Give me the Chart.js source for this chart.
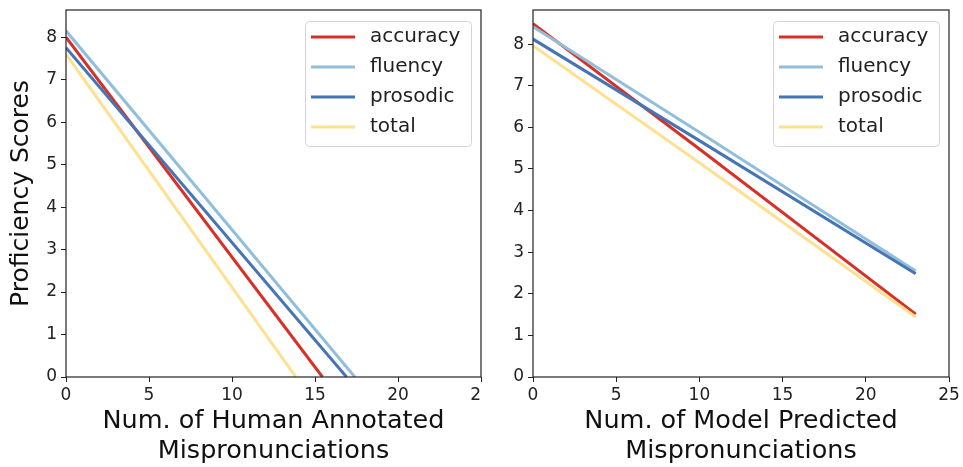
<!DOCTYPE html>
<html lang="en">
<head>
<meta charset="UTF-8" />
<title>Proficiency vs Mispronunciations</title>
<script src="https://cdn.jsdelivr.net/npm/chart.js"></script>
<style>
  html, body { margin: 0; padding: 0; background: #fff; }
  .wrap { display: flex; width: 963px; height: 467px; }
  .box { position: relative; height: 467px; }
</style>
</head>
<body>
<div class="wrap">
  <div class="box" style="width:482px"><canvas id="humanChart"></canvas></div>
  <div class="box" style="width:481px"><canvas id="modelChart"></canvas></div>
</div>
<script>
  // data
  const seriesNames = ['accuracy', 'fluency', 'prosodic', 'total'];
  const seriesColors = ['#d73027', '#91bfdb', '#4575b4', '#fee090'];

  // left: human annotated, lines from x=0 down to y=0
  const humanStartY = [8.0, 8.15, 7.75, 7.6];
  const humanZeroX = [15.45, 17.4, 16.9, 13.85];

  // right: model predicted
  const modelX = [0, 10, 23];
  const modelAccuracy = [8.49, 5.48, 1.51];
  const modelFluency = [8.42, 5.88, 2.55];
  const modelProsodic = [8.12, 5.68, 2.48];
  const modelTotal = [7.96, 5.15, 1.44];

  const xTicks = [0, 5, 10, 15, 20, 25];
  const yTicks = [0, 1, 2, 3, 4, 5, 6, 7, 8];

  Chart.defaults.font.family = "'DejaVu Sans', sans-serif";
  Chart.defaults.color = '#222';

  const boxAndLegend = {
    id: 'boxAndLegend',
    afterDraw(chart) {
      const { ctx, chartArea: a } = chart;
      ctx.save();
      ctx.strokeStyle = '#222';
      ctx.lineWidth = 1.2;
      ctx.strokeRect(a.left, a.top, a.right - a.left, a.bottom - a.top);

      // legend box
      const w = 166, h = 125;
      const lx = a.right - 10 - w, ly = a.top + 11;
      ctx.fillStyle = 'rgba(255,255,255,0.8)';
      ctx.strokeStyle = '#d4d4d4';
      ctx.lineWidth = 1;
      ctx.beginPath();
      ctx.roundRect(lx + 0.5, ly + 0.5, w, h, 4);
      ctx.fill();
      ctx.stroke();

      ctx.font = "20px 'DejaVu Sans'";
      ctx.textBaseline = 'middle';
      seriesNames.forEach((name, i) => {
        const cy = ly + 16 + i * 30;
        ctx.strokeStyle = seriesColors[i];
        ctx.lineWidth = 3;
        ctx.beginPath();
        ctx.moveTo(lx + 6, cy);
        ctx.lineTo(lx + 50, cy);
        ctx.stroke();
        ctx.fillStyle = '#222';
        ctx.fillText(name, lx + 65, cy);
      });
      ctx.restore();
    }
  };

  function makeDatasets(seriesData) {
    return seriesNames.map((name, i) => ({
      label: name,
      data: seriesData[i],
      borderColor: seriesColors[i],
      borderWidth: 3,
      pointRadius: 0,
      fill: false,
      tension: 0,
      order: 4 - i
    }));
  }

  function makeOptions(xTitle, yTitle, yMax, yWidth, padRight) {
    return {
      responsive: true,
      maintainAspectRatio: false,
      animation: false,
      layout: { padding: { top: 10, right: padRight, left: 0, bottom: 0 } },
      plugins: { legend: { display: false }, tooltip: { enabled: false } },
      scales: {
        x: {
          type: 'linear',
          min: 0, max: 25,
          afterBuildTicks: s => { s.ticks = xTicks.map(v => ({ value: v })); },
          afterFit: s => { s.height = 90; s.paddingLeft = 0; s.paddingRight = 0; },
          grid: { drawOnChartArea: false, drawTicks: true, tickLength: 5, color: '#222' },
          border: { display: false },
          ticks: { font: { size: 17 }, padding: 3, color: '#222', maxRotation: 0 },
          title: { display: true, text: xTitle, font: { size: 25.5 }, color: '#111', padding: { top: 2, bottom: 0 } }
        },
        y: {
          type: 'linear',
          min: 0, max: yMax,
          afterBuildTicks: s => { s.ticks = yTicks.map(v => ({ value: v })); },
          afterFit: s => { s.width = yWidth; s.paddingTop = 0; s.paddingBottom = 0; },
          grid: { drawOnChartArea: false, drawTicks: true, tickLength: 5, color: '#222' },
          border: { display: false },
          ticks: { font: { size: 17 }, padding: 4, color: '#222' },
          title: { display: !!yTitle, text: yTitle, font: { size: 25 }, color: '#111', padding: { top: 6, bottom: 4 } }
        }
      }
    };
  }

  const humanData = seriesNames.map((_, i) => [
    { x: 0, y: humanStartY[i] },
    { x: humanZeroX[i], y: 0 }
  ]);
  const modelSeries = [modelAccuracy, modelFluency, modelProsodic, modelTotal];
  const modelData = modelSeries.map(ys => ys.map((y, j) => ({ x: modelX[j], y })));

  new Chart(document.getElementById('humanChart'), {
    type: 'line',
    data: { datasets: makeDatasets(humanData) },
    options: makeOptions(['Num. of Human Annotated', 'Mispronunciations'], 'Proficiency Scores', 8.64, 66, 1),
    plugins: [boxAndLegend]
  });

  new Chart(document.getElementById('modelChart'), {
    type: 'line',
    data: { datasets: makeDatasets(modelData) },
    options: makeOptions(['Num. of Model Predicted', 'Mispronunciations'], '', 8.82, 51, 14),
    plugins: [boxAndLegend]
  });
</script>
</body>
</html>
